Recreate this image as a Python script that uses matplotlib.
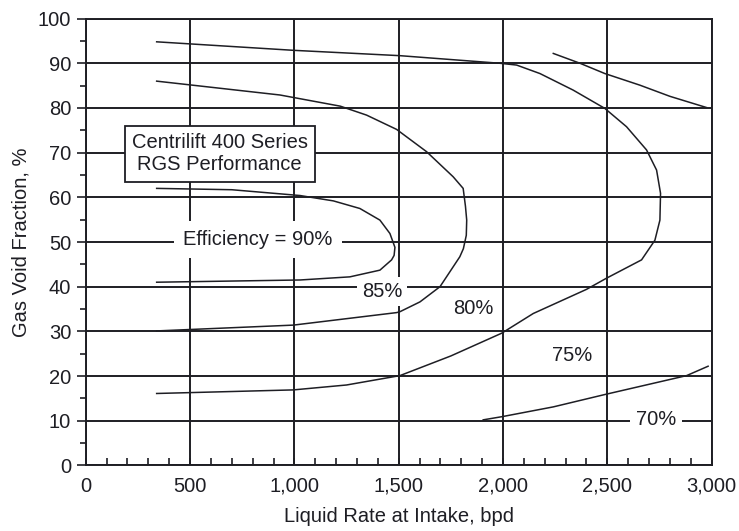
import matplotlib
matplotlib.use("Agg")
import matplotlib.pyplot as plt
from matplotlib.ticker import MultipleLocator, FuncFormatter

plt.rcParams["font.family"] = ["Liberation Sans", "DejaVu Sans"]

# efficiency contours (liquid rate bpd, gas void fraction %)
eff90_x = [340, 700, 1027, 1187, 1314, 1410, 1458, 1482, 1478, 1466, 1410, 1266, 1027, 340]
eff90_y = [62.0, 61.7, 60.4, 59.2, 57.5, 54.9, 51.9, 48.8, 47.0, 46.0, 43.7, 42.2, 41.5, 41.0]

eff85_x = [340, 931, 1220, 1346, 1490, 1634, 1761, 1809, 1820, 1826, 1824, 1810, 1793,
           1698, 1602, 1506, 1490, 995, 340]
eff85_y = [86.0, 82.9, 80.4, 78.4, 75.2, 70.2, 64.6, 62.0, 58.0, 54.9, 51.5, 48.5, 46.7,
           40.0, 36.6, 34.4, 34.2, 31.4, 30.1]

eff80_x = [340, 995, 1506, 1985, 2065, 2177, 2336, 2488, 2592, 2688, 2736, 2755, 2752,
           2728, 2664, 2496, 2400, 2145, 1994, 1750, 1506, 1250, 995, 340]
eff80_y = [94.8, 92.9, 91.7, 90.0, 89.6, 87.7, 84.0, 79.9, 75.8, 70.6, 66.1, 60.9, 54.9,
           50.4, 46.0, 41.9, 39.4, 34.0, 29.6, 24.5, 20.1, 18.0, 16.9, 16.1]

eff75_x = [2241, 2369, 2488, 2656, 2800, 2975]
eff75_y = [92.2, 90.0, 87.7, 85.1, 82.6, 80.1]

eff70_x = [1905, 1994, 2241, 2491, 2880, 2983]
eff70_y = [10.2, 10.9, 13.1, 15.9, 20.1, 22.2]

curves = [(eff90_x, eff90_y), (eff85_x, eff85_y), (eff80_x, eff80_y),
          (eff75_x, eff75_y), (eff70_x, eff70_y)]

ink = "#1e1e24"
fs = 14.5

fig = plt.figure(figsize=(7.39, 5.31), dpi=100)
ax = fig.add_axes([0.116, 0.1235, 0.847, 0.8415])

for xs, ys in curves:
    ax.plot(xs, ys, color=ink, lw=1.1, zorder=3)

ax.set_xlim(0, 3000)
ax.set_ylim(0, 100)
ax.xaxis.set_major_locator(MultipleLocator(500))
ax.xaxis.set_minor_locator(MultipleLocator(100))
ax.yaxis.set_major_locator(MultipleLocator(10))
ax.yaxis.set_minor_locator(MultipleLocator(5))
ax.xaxis.set_major_formatter(FuncFormatter(lambda v, p: f"{v:,.0f}"))

ax.set_axisbelow(True)
ax.grid(True, which="major", color=ink, lw=1.4)
for s in ax.spines.values():
    s.set_color(ink)
    s.set_linewidth(1.4)

ax.tick_params(axis="x", which="both", direction="in", length=5, width=1.2,
               color=ink, labelsize=fs, labelcolor=ink, pad=8, top=False)
ax.tick_params(axis="y", which="major", direction="out", length=6.5, width=1.2,
               color=ink, labelsize=fs, labelcolor=ink, pad=4, right=False)
ax.tick_params(axis="y", which="minor", direction="out", length=4, width=1.2,
               color=ink, right=False)

ax.set_xlabel("Liquid Rate at Intake, bpd", fontsize=fs, color=ink, labelpad=8)
ax.set_ylabel("Gas Void Fraction, %", fontsize=fs, color=ink, labelpad=5)

ax.text(642, 69.7, "Centrilift 400 Series\nRGS Performance", fontsize=fs, color=ink,
        ha="center", va="center", linespacing=1.2, zorder=2,
        bbox=dict(boxstyle="square,pad=0.35", fc="white", ec=ink, lw=1.3))

ax.text(825, 50.5, "Efficiency = 90%", fontsize=fs, color=ink, ha="center", va="center",
        zorder=2, bbox=dict(boxstyle="square,pad=0.45", fc="white", ec="none"))
ax.text(1420, 39.0, "85%", fontsize=fs, color=ink, ha="center", va="center",
        zorder=2, bbox=dict(boxstyle="square,pad=0.25", fc="white", ec="none"))
ax.text(1860, 35.2, "80%", fontsize=fs, color=ink, ha="center", va="center", zorder=2)
ax.text(2330, 24.7, "75%", fontsize=fs, color=ink, ha="center", va="center", zorder=2)
ax.text(2733, 10.2, "70%", fontsize=fs, color=ink, ha="center", va="center",
        zorder=2, bbox=dict(boxstyle="square,pad=0.3", fc="white", ec="none"))

fig.savefig("out.png", dpi=100)
